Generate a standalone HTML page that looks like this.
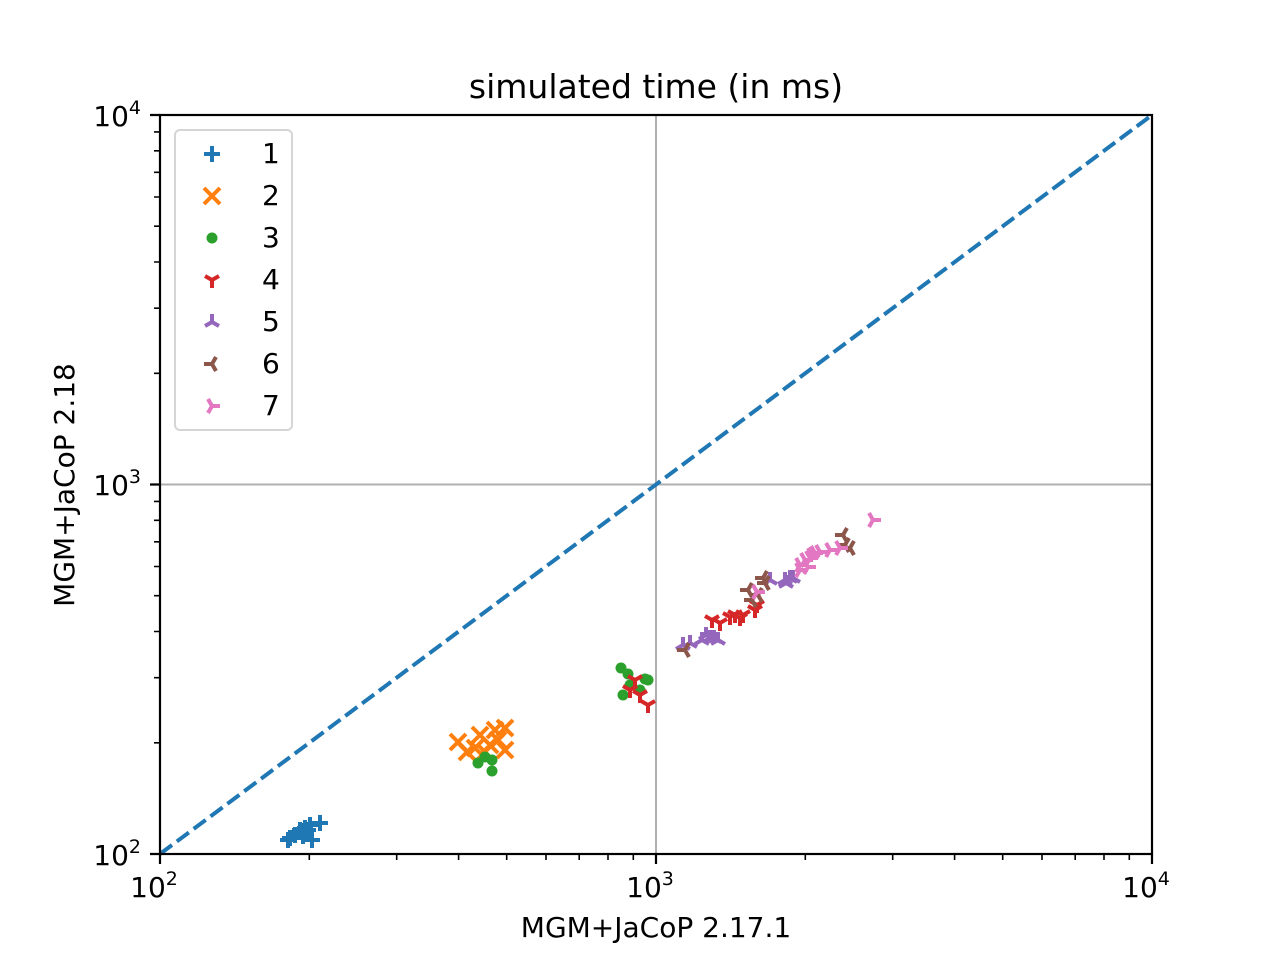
<!DOCTYPE html>
<html><head><style>body{margin:0;background:#fff}svg text{font-family:"DejaVu Sans","Liberation Sans",sans-serif}</style></head><body>
<svg width="1280" height="960" xmlns="http://www.w3.org/2000/svg">
<defs>
<g id="p"><path d="M-8,0H8M0,-8V8" stroke="#1f77b4" stroke-width="4"/></g>
<g id="x"><path d="M-8,-8L8,8M-8,8L8,-8" stroke="#ff7f0e" stroke-width="4"/></g>
<g id="d"><circle r="5.5" fill="#2ca02c"/></g>
<g id="t4"><path d="M0,0V8M0,0L-7,-4M0,0L7,-4" stroke="#d62728" stroke-width="4"/></g>
<g id="t5"><path d="M0,0V-8M0,0L-7,4M0,0L7,4" stroke="#9467bd" stroke-width="4"/></g>
<g id="t6"><path d="M0,0H-8M0,0L4,-7M0,0L4,7" stroke="#8c564b" stroke-width="4"/></g>
<g id="t7"><path d="M0,0H8M0,0L-4,-7M0,0L-4,7" stroke="#e377c2" stroke-width="4"/></g>
</defs>
<text x="656" y="98" style="font-size:33px" text-anchor="middle">simulated time (in ms)</text>
<g stroke="#b0b0b0" stroke-width="2"><line x1="656" y1="115" x2="656" y2="854"/><line x1="160" y1="484.5" x2="1152" y2="484.5"/></g>
<line x1="160" y1="854" x2="1152" y2="115" stroke="#1f77b4" stroke-width="4" stroke-dasharray="15,6"/>
<g>
<use href="#p" x="288" y="840"/><use href="#p" x="295" y="835"/><use href="#p" x="300" y="830"/><use href="#p" x="305" y="828"/><use href="#p" x="310" y="825"/><use href="#p" x="320" y="823"/><use href="#p" x="312" y="840"/><use href="#p" x="290" y="838"/><use href="#p" x="300" y="832"/><use href="#p" x="308" y="830"/><use href="#p" x="303" y="836"/>
<use href="#x" x="458" y="742"/><use href="#x" x="467" y="752"/><use href="#x" x="480" y="735"/><use href="#x" x="490" y="745"/><use href="#x" x="498" y="740"/><use href="#x" x="505" y="728"/><use href="#x" x="505" y="750"/><use href="#x" x="485" y="752"/><use href="#x" x="475" y="748"/><use href="#x" x="495" y="730"/>
<use href="#d" x="478" y="763"/><use href="#d" x="485" y="757"/><use href="#d" x="492" y="760"/><use href="#d" x="492" y="771"/><use href="#d" x="621" y="668"/><use href="#d" x="628" y="674"/><use href="#d" x="648" y="680"/><use href="#d" x="645" y="679"/><use href="#d" x="623" y="695"/><use href="#d" x="630" y="685"/><use href="#d" x="640" y="690"/>
<use href="#t4" x="635" y="680"/><use href="#t4" x="630" y="690"/><use href="#t4" x="640" y="695"/><use href="#t4" x="648" y="705"/><use href="#t4" x="712" y="620"/><use href="#t4" x="720" y="623"/><use href="#t4" x="730" y="617"/><use href="#t4" x="735" y="615"/><use href="#t4" x="740" y="618"/><use href="#t4" x="755" y="610"/><use href="#t4" x="757" y="605"/><use href="#t4" x="743" y="615"/>
<use href="#t5" x="683" y="645"/><use href="#t5" x="690" y="643"/><use href="#t5" x="702" y="640"/><use href="#t5" x="706" y="635"/><use href="#t5" x="710" y="638"/><use href="#t5" x="714" y="638"/><use href="#t5" x="718" y="640"/><use href="#t5" x="785" y="580"/><use href="#t5" x="790" y="578"/><use href="#t5" x="770" y="580"/><use href="#t5" x="786" y="583"/><use href="#t5" x="793" y="578"/>
<use href="#t6" x="685" y="650"/><use href="#t6" x="748" y="590"/><use href="#t6" x="752" y="600"/><use href="#t6" x="758" y="595"/><use href="#t6" x="765" y="583"/><use href="#t6" x="763" y="578"/><use href="#t6" x="843" y="535"/><use href="#t6" x="850" y="548"/><use href="#t6" x="845" y="545"/>
<use href="#t7" x="873" y="520"/><use href="#t7" x="757" y="592"/><use href="#t7" x="800" y="565"/><use href="#t7" x="805" y="560"/><use href="#t7" x="810" y="558"/><use href="#t7" x="815" y="553"/><use href="#t7" x="820" y="552"/><use href="#t7" x="830" y="550"/><use href="#t7" x="840" y="548"/><use href="#t7" x="800" y="570"/><use href="#t7" x="808" y="567"/><use href="#t7" x="812" y="555"/>
</g>
<rect x="160" y="115" width="992" height="739" fill="none" stroke="#000" stroke-width="2.2"/>
<g stroke="#000" stroke-width="2.2">
<path d="M160,854v10M656,854v10M1152,854v10"/>
<path d="M160,854h-10M160,484.5h-10M160,115h-10"/>
</g>
<g stroke="#000" stroke-width="1.6">
<path d="M309.3,854v6M396.7,854v6M458.6,854v6M506.7,854v6M546,854v6M579.2,854v6M608,854v6M633.3,854v6M805.3,854v6M892.7,854v6M954.6,854v6M1002.7,854v6M1042,854v6M1075.2,854v6M1104,854v6M1129.3,854v6"/>
<path d="M160,742.8h-6M160,677.7h-6M160,631.5h-6M160,595.7h-6M160,566.5h-6M160,541.8h-6M160,520.3h-6M160,501.4h-6M160,373.3h-6M160,308.2h-6M160,262h-6M160,226.2h-6M160,197h-6M160,172.3h-6M160,150.8h-6M160,131.9h-6"/>
</g>
<g style="font-size:28px" text-anchor="middle">
<text x="154" y="897">10<tspan style="font-size:19px" dy="-12">2</tspan></text>
<text x="650" y="897">10<tspan style="font-size:19px" dy="-12">3</tspan></text>
<text x="1146" y="897">10<tspan style="font-size:19px" dy="-12">4</tspan></text>
</g>
<g style="font-size:28px" text-anchor="end">
<text x="141" y="865">10<tspan style="font-size:19px" dy="-12">2</tspan></text>
<text x="141" y="495">10<tspan style="font-size:19px" dy="-12">3</tspan></text>
<text x="141" y="126">10<tspan style="font-size:19px" dy="-12">4</tspan></text>
</g>
<text x="656" y="937" style="font-size:28px" text-anchor="middle">MGM+JaCoP 2.17.1</text>
<text transform="translate(74,485) rotate(-90)" style="font-size:28px" text-anchor="middle">MGM+JaCoP 2.18</text>
<rect x="175" y="130" width="117" height="300" rx="5" fill="#fff" fill-opacity="0.8" stroke="#d5d5d5" stroke-width="2"/>
<g style="font-size:28px">
<use href="#p" x="212" y="154"/><text x="262" y="163">1</text>
<use href="#x" x="212" y="196"/><text x="262" y="205">2</text>
<use href="#d" x="212" y="238"/><text x="262" y="247">3</text>
<use href="#t4" x="212" y="280"/><text x="262" y="289">4</text>
<use href="#t5" x="212" y="322"/><text x="262" y="331">5</text>
<use href="#t6" x="212" y="364"/><text x="262" y="373">6</text>
<use href="#t7" x="212" y="406"/><text x="262" y="415">7</text>
</g>
</svg>
</body></html>
